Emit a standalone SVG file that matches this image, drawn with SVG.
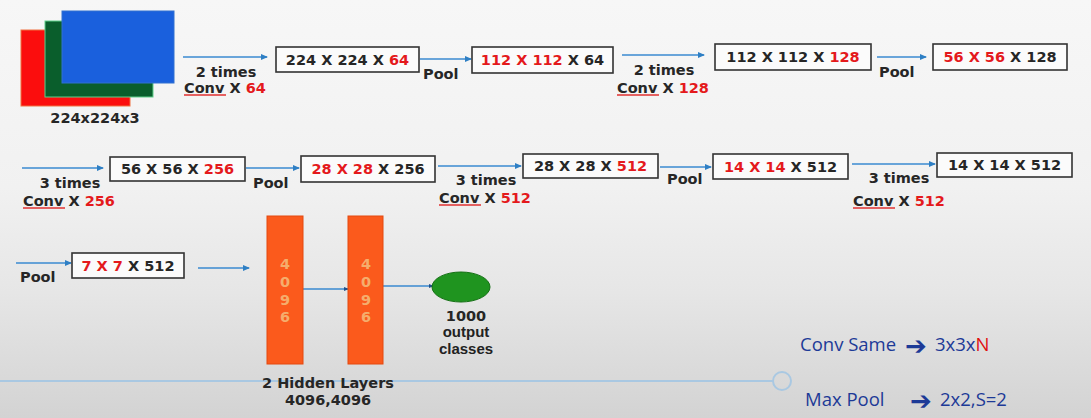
<svg xmlns="http://www.w3.org/2000/svg" width="1091" height="418" viewBox="0 0 1091 418">
<defs>
<linearGradient id="bg" x1="0" y1="0" x2="0" y2="1">
<stop offset="0" stop-color="#f7f7f7"/>
<stop offset="0.45" stop-color="#f1f1f1"/>
<stop offset="0.7" stop-color="#e6e6e6"/>
<stop offset="1" stop-color="#d3d3d3"/>
</linearGradient>
<marker id="ah" markerWidth="7" markerHeight="6" refX="6" refY="3" orient="auto" markerUnits="userSpaceOnUse">
<path d="M0,0 L7,3 L0,6 z" fill="#2e7fc4"/>
</marker>
<marker id="dot" markerWidth="5" markerHeight="5" refX="4" refY="2.5" orient="auto" markerUnits="userSpaceOnUse">
<path d="M0,0.5 L5,2.5 L0,4.5 z" fill="#22508a"/>
</marker>
<style>
.t{font-family:"DejaVu Sans",Verdana,sans-serif;font-weight:bold;font-size:14.5px;fill:#262626}
.r{fill:#e4191c}
.box{fill:#fbfbfb;stroke:#333;stroke-width:1.6}
.conn{stroke:#3a8ad0;stroke-width:1.3;fill:none}
.arr{marker-end:url(#ah)}
.ul{stroke:#e03030;stroke-width:1.3}
.layer{fill:#fb5a1c;stroke:#e4480e;stroke-width:1}
.dig{font-family:"DejaVu Sans",Verdana,sans-serif;font-weight:bold;font-size:14.5px;fill:#f5ad6c;text-anchor:middle}
.out{font-family:"Liberation Sans",Arial,sans-serif;font-weight:bold;font-size:15px;fill:#222;text-anchor:middle}
.leg{font-family:"Open Sans","Noto Sans",sans-serif;font-size:18.5px;fill:#1d3a97}
.sym{font-family:"DejaVu Sans",sans-serif;font-weight:bold;font-size:26px;fill:#1d3a97}
</style>
</defs>
<rect width="1091" height="418" fill="url(#bg)"/>
<line x1="0" y1="381" x2="773" y2="381" stroke="#a9c8e2" stroke-width="2"/>
<circle cx="782" cy="381" r="9" fill="none" stroke="#a9c8e2" stroke-width="2"/>

<g id="input">
<rect x="21" y="30" width="109" height="76" fill="#fb0d0d" stroke="#f07040" stroke-width="1"/>
<rect x="45" y="21" width="108" height="76" fill="#0a5e2c" stroke="#5fd08a" stroke-width="1"/>
<rect x="62" y="11" width="112" height="72" fill="#1a60dd" stroke="#3070d0" stroke-width="1"/>
<text class="t" x="95" y="123" text-anchor="middle">224x224x3</text>
</g>

<g id="connectors">
<line class="conn arr" x1="183" y1="57" x2="267" y2="57"/>
<line class="conn arr" x1="420" y1="59" x2="471" y2="59"/>
<line class="conn arr" x1="622" y1="55" x2="704" y2="55"/>
<line class="conn arr" x1="877" y1="57" x2="926" y2="57"/>
<line class="conn arr" x1="22" y1="168" x2="103" y2="168"/>
<line class="conn arr" x1="246" y1="168" x2="299" y2="168"/>
<line class="conn arr" x1="438" y1="166" x2="521" y2="166"/>
<line class="conn arr" x1="660" y1="167" x2="711" y2="167"/>
<line class="conn arr" x1="852" y1="164" x2="935" y2="164"/>
<line class="conn arr" x1="16" y1="263" x2="71" y2="263"/>
<line class="conn arr" x1="198" y1="268" x2="249" y2="268"/>
<line class="conn" x1="303" y1="289" x2="348" y2="289" marker-end="url(#dot)"/>
<line class="conn" x1="383" y1="286" x2="433" y2="286" marker-end="url(#dot)"/>
</g>

<g id="labels">
<text class="t" x="226" y="77" text-anchor="middle">2 times</text>
<text class="t" x="184" y="93">Conv X <tspan class="r">64</tspan></text>
<line class="ul" x1="184" y1="95" x2="226" y2="95"/>
<text class="t" x="423" y="79">Pool</text>
<text class="t" x="664" y="75" text-anchor="middle">2 times</text>
<text class="t" x="617" y="93">Conv X <tspan class="r">128</tspan></text>
<line class="ul" x1="617" y1="95" x2="659" y2="95"/>
<text class="t" x="879" y="77">Pool</text>
<text class="t" x="70" y="188" text-anchor="middle">3 times</text>
<text class="t" x="23" y="206">Conv X <tspan class="r">256</tspan></text>
<line class="ul" x1="23" y1="208" x2="65" y2="208"/>
<text class="t" x="253" y="188">Pool</text>
<text class="t" x="486" y="185" text-anchor="middle">3 times</text>
<text class="t" x="439" y="203">Conv X <tspan class="r">512</tspan></text>
<line class="ul" x1="439" y1="205" x2="481" y2="205"/>
<text class="t" x="667" y="184">Pool</text>
<text class="t" x="899" y="183" text-anchor="middle">3 times</text>
<text class="t" x="853" y="206">Conv X <tspan class="r">512</tspan></text>
<line class="ul" x1="853" y1="208" x2="895" y2="208"/>
<text class="t" x="20" y="282">Pool</text>
</g>

<g id="b1"><rect class="box" x="276" y="47" width="143" height="25"/><text class="t" x="347.5" y="65" text-anchor="middle">224 X 224 X <tspan class="r">64</tspan></text></g>
<g id="b2"><rect class="box" x="472" y="47" width="141" height="26"/><text class="t" x="542.5" y="65" text-anchor="middle"><tspan class="r">112 X 112</tspan> X 64</text></g>
<g id="b3"><rect class="box" x="715" y="44" width="156" height="26"/><text class="t" x="793" y="62" text-anchor="middle">112 X 112 X <tspan class="r">128</tspan></text></g>
<g id="b4"><rect class="box" x="933" y="44" width="134" height="26"/><text class="t" x="1000" y="62" text-anchor="middle"><tspan class="r">56 X 56</tspan> X 128</text></g>
<g id="b5"><rect class="box" x="110" y="157" width="135" height="24"/><text class="t" x="177.5" y="174" text-anchor="middle">56 X 56 X <tspan class="r">256</tspan></text></g>
<g id="b6"><rect class="box" x="301" y="156" width="134" height="26"/><text class="t" x="368" y="174" text-anchor="middle"><tspan class="r">28 X 28</tspan> X 256</text></g>
<g id="b7"><rect class="box" x="523" y="154" width="135" height="24"/><text class="t" x="590.5" y="171" text-anchor="middle">28 X 28 X <tspan class="r">512</tspan></text></g>
<g id="b8"><rect class="box" x="713" y="154" width="135" height="25"/><text class="t" x="780.5" y="172" text-anchor="middle"><tspan class="r">14 X 14</tspan> X 512</text></g>
<g id="b9"><rect class="box" x="937" y="153" width="135" height="24"/><text class="t" x="1004.5" y="170" text-anchor="middle">14 X 14 X 512</text></g>
<g id="b10"><rect class="box" x="72" y="253" width="112" height="25"/><text class="t" x="128" y="271" text-anchor="middle"><tspan class="r">7 X 7</tspan> X 512</text></g>

<g id="hidden1">
<rect class="layer" x="267" y="216" width="36" height="148"/>
<text class="dig" x="285" y="269">4</text><text class="dig" x="285" y="287">0</text><text class="dig" x="285" y="305">9</text><text class="dig" x="285" y="322">6</text>
</g>
<g id="hidden2">
<rect class="layer" x="348" y="216" width="35" height="148"/>
<text class="dig" x="366" y="269">4</text><text class="dig" x="366" y="287">0</text><text class="dig" x="366" y="305">9</text><text class="dig" x="366" y="322">6</text>
</g>
<g id="hidden-label">
<text class="t" x="328" y="388" text-anchor="middle">2 Hidden Layers</text>
<text class="t" x="328" y="405" text-anchor="middle">4096,4096</text>
</g>

<g id="output">
<ellipse cx="461" cy="287" rx="29" ry="15" fill="#1f941f" stroke="#137013" stroke-width="1"/>
<text class="t" x="466" y="321" text-anchor="middle">1000</text>
<text class="out" x="466" y="337">output</text>
<text class="out" x="466" y="354">classes</text>
</g>

<g id="legend">
<text class="leg" x="800" y="351">Conv Same</text>
<text class="sym" x="905" y="355">➔</text>
<text class="leg" x="935" y="351">3x3x<tspan fill="#e01010">N</tspan></text>
<text class="leg" x="805" y="406">Max Pool</text>
<text class="sym" x="910" y="410">➔</text>
<text class="leg" x="940" y="406">2x2,S=2</text>
</g>
</svg>
